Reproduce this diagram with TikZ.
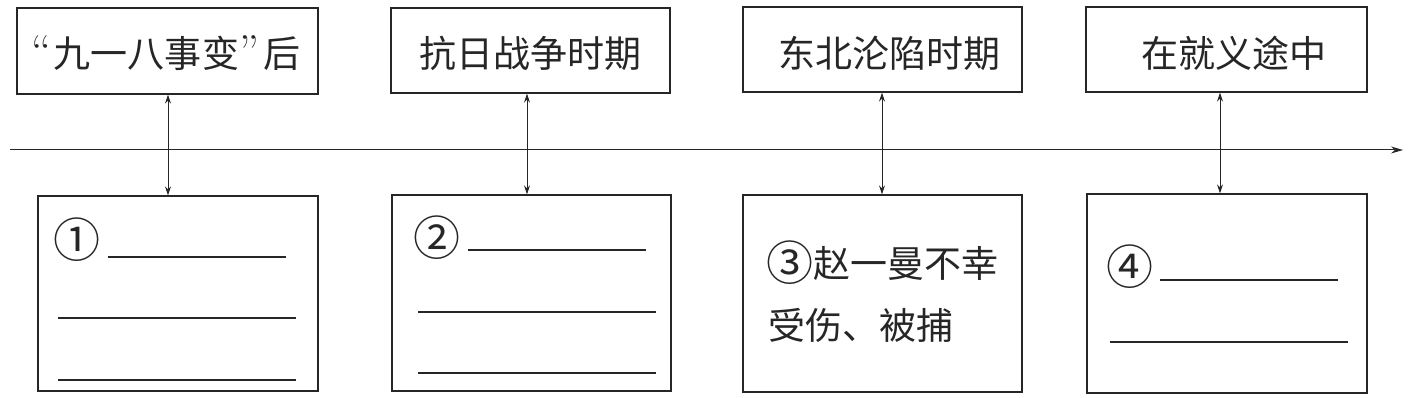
\documentclass[tikz,border=0pt]{standalone}
\usepackage{fontspec}
\newfontfamily\cjk{Noto Sans CJK SC}
\usetikzlibrary{arrows.meta}
\newcommand{\circnumx}[1]{{\fontsize{47}{44}\selectfont\raisebox{-3pt}{#1}}}
\newcommand{\lquox}{{\rmfamily\fontsize{46}{44}\selectfont “}\hspace{3pt}}
\newcommand{\rquox}{{\rmfamily\fontsize{46}{44}\selectfont ”}\hspace{5pt}}
\tikzset{
  ink/.style={draw=black!85, line width=1.3pt},
  box/.style={ink, rectangle, inner sep=0pt},
  lab/.style={font=\cjk\fontsize{37}{44}\selectfont, text=black!85, inner sep=0pt},
  blank/.style={draw=black!85, line width=1.3pt},
  link/.style={draw=black!85, line width=1pt, {Stealth[length=9pt,width=6pt]}-{Stealth[length=9pt,width=6pt]}},
  axis/.style={draw=black!85, line width=1pt, -{Stealth[length=12pt,width=7pt]}}
}
\begin{document}
\begin{tikzpicture}[x=1pt,y=-1pt]
\useasboundingbox (0,0) rectangle (1421,398);
% top boxes
\node[box, minimum width=301pt, minimum height=86pt] (t1) at (167.5,51) {};
\node[box, minimum width=279pt, minimum height=85pt] (t2) at (530.5,50.5) {};
\node[box, minimum width=279pt, minimum height=85pt] (t3) at (882.5,49.5) {};
\node[box, minimum width=281pt, minimum height=85pt] (t4) at (1226.5,49.5) {};
\node[lab] (l1) at (166,53) {\lquox 九一八事变\rquox 后};
\node[lab] (l2) at (530,53) {抗日战争时期};
\node[lab] (l3) at (889,53) {东北沦陷时期};
\node[lab] (l4) at (1234,53) {在就义途中};
% bottom boxes
\node[box, minimum width=280pt, minimum height=195pt] (b1) at (178,293.5) {};
\node[box, minimum width=279pt, minimum height=196pt] (b2) at (531.5,293) {};
\node[box, minimum width=279pt, minimum height=197pt] (b3) at (882.5,293.5) {};
\node[box, minimum width=280pt, minimum height=199pt] (b4) at (1227,293.5) {};
% timeline
\coordinate (s) at (10,150);
\coordinate (e) at (1403,150);
\draw[axis] (s) -- (e);
% connectors
\coordinate (x1) at (168,0);
\coordinate (x2) at (527,0);
\coordinate (x3) at (882,0);
\coordinate (x4) at (1220,0);
\draw[link] (t1.south -| x1) -- (b1.north -| x1);
\draw[link] (t2.south -| x2) -- (b2.north -| x2);
\draw[link] (t3.south -| x3) -- (b3.north -| x3);
\draw[link] (t4.south -| x4) -- (b4.north -| x4);
% box 1 content
\node[lab, font=\cjk\fontsize{47}{50}\selectfont] (n1) at (77,240) {①};
\draw[blank] (108,257) -- (286,257);
\draw[blank] (58,318) -- (296,318);
\draw[blank] (58,380) -- (296,380);
% box 2 content
\node[lab, font=\cjk\fontsize{47}{50}\selectfont] (n2) at (437,238) {②};
\draw[blank] (468,250) -- (646,250);
\draw[blank] (418,312) -- (656,312);
\draw[blank] (418,373) -- (656,373);
% box 3 content
\node[lab, anchor=west] (n3a) at (766,263) {\circnumx{③}赵一曼不幸};
\node[lab, anchor=west] (n3b) at (768,325) {受伤、被捕};
% box 4 content
\node[lab, font=\cjk\fontsize{47}{50}\selectfont] (n4) at (1130,267) {④};
\draw[blank] (1160,280) -- (1338,280);
\draw[blank] (1110,342) -- (1348,342);
\end{tikzpicture}
\end{document}
